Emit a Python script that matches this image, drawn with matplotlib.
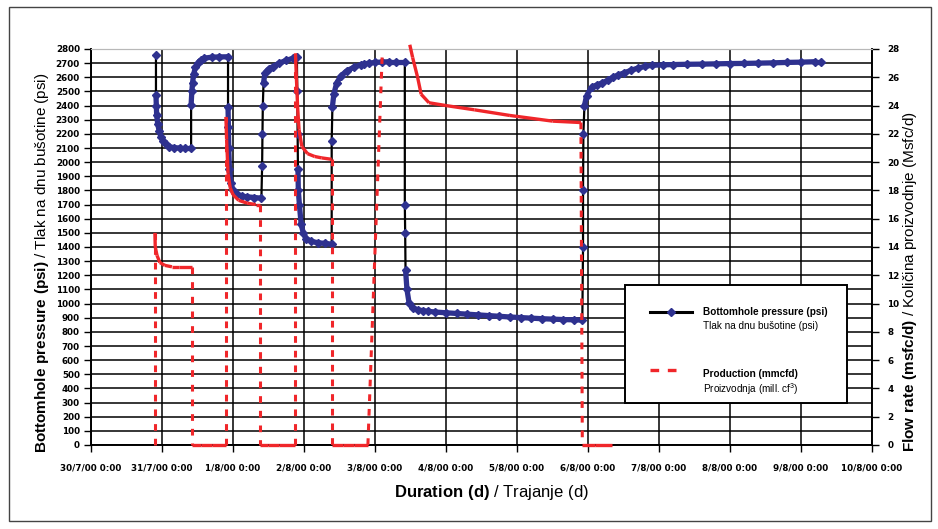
import numpy as np
import matplotlib.pyplot as plt
from matplotlib.collections import LineCollection
from matplotlib.patches import Rectangle
from matplotlib.lines import Line2D

plt.rcParams['font.family'] = ['Liberation Sans', 'DejaVu Sans']
plt.rcParams['mathtext.fontset'] = 'custom'
plt.rcParams['mathtext.rm'] = 'Liberation Sans'
plt.rcParams['mathtext.bf'] = 'Liberation Sans:bold'

# x values are days counted from 30/7/00 0:00
day_labels = ['30/7/00 0:00', '31/7/00 0:00', '1/8/00 0:00', '2/8/00 0:00',
              '3/8/00 0:00', '4/8/00 0:00', '5/8/00 0:00', '6/8/00 0:00',
              '7/8/00 0:00', '8/8/00 0:00', '9/8/00 0:00', '10/8/00 0:00']
psi_ticks = list(range(0, 2801, 100))
rate_ticks = list(range(0, 29, 2))

# bottomhole pressure (psi)
pressure_days = [0.915, 0.915, 0.92, 0.925, 0.94, 0.96, 0.985, 1.02, 1.06, 1.10, 1.17, 1.25, 1.33, 1.41,
                 1.41, 1.42, 1.43, 1.445, 1.47, 1.50, 1.55, 1.59, 1.70, 1.80, 1.93,
                 1.93, 1.935, 1.94, 1.95, 1.97, 2.00, 2.05, 2.12, 2.20, 2.30, 2.40,
                 2.41, 2.415, 2.42, 2.43, 2.45, 2.50, 2.56, 2.65, 2.75, 2.85, 2.90,
                 2.905, 2.91, 2.915, 2.92, 2.935, 2.96, 2.99, 3.03, 3.10, 3.20, 3.30, 3.39,
                 3.39, 3.40, 3.42, 3.46, 3.52, 3.60, 3.70, 3.80, 3.85, 3.92, 4.00, 4.10,
                 4.20, 4.30, 4.42,
                 4.42, 4.425, 4.43, 4.45, 4.48, 4.53, 4.60, 4.68, 4.75, 4.85, 5.00, 5.15,
                 5.30, 5.45, 5.60, 5.75, 5.90, 6.05, 6.20, 6.35, 6.50, 6.65, 6.80, 6.92,
                 6.93, 6.93, 6.935, 6.95, 6.98, 7.05, 7.12, 7.20, 7.28, 7.35, 7.42, 7.50,
                 7.60, 7.70, 7.80, 7.90, 8.05, 8.20, 8.40, 8.60, 8.80, 9.00, 9.20, 9.40,
                 9.60, 9.80, 10.00, 10.20, 10.28]
pressure_psi = [2758, 2475, 2400, 2330, 2270, 2220, 2178, 2150, 2125, 2110, 2102, 2100, 2100, 2100,
                2405, 2500, 2560, 2620, 2670, 2700, 2725, 2735, 2742, 2744, 2745,
                2390, 2250, 2100, 1950, 1850, 1800, 1775, 1760, 1755, 1750, 1745,
                1970, 2200, 2400, 2560, 2630, 2660, 2675, 2700, 2720, 2735, 2740,
                2500, 2200, 1950, 1800, 1700, 1560, 1500, 1460, 1440, 1430, 1425, 1420,
                2150, 2390, 2480, 2560, 2610, 2645, 2670, 2690, 2695, 2700, 2705, 2708,
                2710, 2710, 2710,
                1700, 1500, 1240, 1100, 1004, 970, 955, 950, 945, 940, 935, 930,
                925, 920, 915, 910, 905, 901, 897, 893, 890, 887, 885, 883,
                1400, 1800, 2200, 2400, 2470, 2530, 2545, 2560, 2580, 2600, 2615, 2630,
                2648, 2665, 2677, 2685, 2688, 2690, 2692, 2693, 2695, 2697, 2698, 2700,
                2702, 2705, 2707, 2710, 2710]

# production rate (mmcfd); nan leaves a gap in the record
rate_days = [0.90, 0.90, 0.905, 0.93, 0.97, 1.04, 1.14, 1.24, 1.42,
             1.42, 1.55, 1.70, 1.90,
             1.90, 1.91, 1.93, 1.96, 2.00, 2.08, 2.20, 2.32, 2.38,
             2.38, 2.50, 2.65, 2.88,
             2.88, 2.89, 2.91, 2.93, 2.97, 3.05, 3.15, 3.25, 3.39,
             3.39, 3.55, 3.70, 3.90,
             4.10, 4.30,
             4.49, 4.53, 4.60, 4.65, 4.76, 5.00, 5.40, 5.90, 6.50, 6.90,
             6.92, 7.10, 7.34]
rate_mmcfd = [0, 15.0, 14.0, 13.4, 12.9, 12.7, 12.6, 12.6, 12.6,
              0, 0, 0, 0,
              23.2, 21.6, 19.2, 18.2, 17.7, 17.3, 17.1, 17.0, 17.0,
              0, 0, 0, 0,
              27.7, 26.3, 23.9, 22.3, 21.1, 20.6, 20.4, 20.3, 20.2,
              0, 0, 0, 0,
              27.4, np.nan,
              28.3, 27.4, 26.0, 24.8, 24.2, 24.0, 23.7, 23.3, 22.9, 22.8,
              0, 0, 0]


def split_segments(xs, ys, jump):
    """Split a series into gentle segments and steep jumps."""
    gentle, steep = [], []
    for x0, y0, x1, y1 in zip(xs[:-1], ys[:-1], xs[1:], ys[1:]):
        if np.isnan(y0) or np.isnan(y1):
            continue
        seg = [(x0, y0), (x1, y1)]
        (steep if abs(y1 - y0) > jump else gentle).append(seg)
    return gentle, steep


navy = '#2e318f'
red = '#f0262a'
tick_font = dict(family='DejaVu Sans', weight='bold', size=6.3)

fig = plt.figure(figsize=(9.38, 5.29), dpi=100)
ax = fig.add_axes([91 / 938, 1 - 445 / 529, 781 / 938, 396 / 529])
ax2 = ax.twinx()

# pressure: black connecting line, dense blue diamonds along the curves
ax.plot(pressure_days, pressure_psi, color='black', lw=1.6, zorder=3)
gentle, steep = split_segments(pressure_days, pressure_psi, 150)
ax.add_collection(LineCollection(gentle, colors=navy, linewidths=3.8, zorder=4))
ax.plot(pressure_days, pressure_psi, ls='none', marker='D', ms=4,
        color=navy, mec=navy, zorder=5)

# production: solid where the rate changes slowly, dashed across the steps
gentle, steep = split_segments(rate_days, rate_mmcfd, 3)
ax2.add_collection(LineCollection(gentle, colors=red, linewidths=2.4,
                                  zorder=3, clip_on=False))
ax2.add_collection(LineCollection(steep, colors=red, linewidths=2.2,
                                  linestyles=[(0, (2.2, 2.6))], zorder=3, clip_on=False))

ax.set_xlim(0, 11)
ax.set_ylim(0, 2800)
ax2.set_ylim(0, 28)

ax.set_xticks(range(len(day_labels)))
ax.set_xticklabels(day_labels, fontdict=tick_font)
ax.set_yticks(psi_ticks)
ax.set_yticklabels([str(v) for v in psi_ticks], fontdict=tick_font)
ax2.set_yticks(rate_ticks)
ax2.set_yticklabels([str(v) for v in rate_ticks], fontdict=tick_font)

ax.grid(True, color='black', lw=1.1)
ax.yaxis.get_gridlines()[-1].set_visible(False)
ax.set_axisbelow(True)
ax.tick_params(axis='y', direction='out', length=5, width=1, pad=3)
ax.tick_params(axis='x', direction='out', length=5, width=1, pad=8)
ax2.tick_params(axis='y', direction='out', length=5, width=1, pad=6)
for a in (ax, ax2):
    for side in ('left', 'right', 'bottom'):
        a.spines[side].set_color('black')
        a.spines[side].set_linewidth(1.2)
    a.spines['top'].set_color('#b8b8b8')

# legend box
ax2.add_patch(Rectangle((0.684, 0.106), 0.284, 0.298, transform=ax2.transAxes,
                        facecolor='white', edgecolor='black', lw=1.4, zorder=10))
ax2.add_line(Line2D([0.716, 0.770], [0.336, 0.336], transform=ax2.transAxes,
                    color='black', lw=2.2, zorder=11))
ax2.add_line(Line2D([0.743], [0.336], transform=ax2.transAxes, marker='D', ms=4,
                    color=navy, zorder=12))
ax2.add_line(Line2D([0.716, 0.758], [0.189, 0.189], transform=ax2.transAxes,
                    color=red, lw=2.4, ls=(0, (2.6, 2.6)), zorder=11))
ax2.text(0.784, 0.336, 'Bottomhole pressure (psi)', transform=ax2.transAxes,
         fontsize=7.2, weight='bold', va='center', zorder=12)
ax2.text(0.784, 0.300, 'Tlak na dnu bušotine (psi)', transform=ax2.transAxes,
         fontsize=7.2, va='center', zorder=12)
ax2.text(0.784, 0.179, 'Production (mmcfd)', transform=ax2.transAxes,
         fontsize=7.2, weight='bold', va='center', zorder=12)
ax2.text(0.784, 0.140, 'Proizvodnja (mill. cf$^3$)', transform=ax2.transAxes,
         fontsize=7.2, va='center', zorder=12)

# axis titles, bold English part followed by the local translation
fig.text(42 / 938, 1 - 453 / 529,
         r'$\mathbf{Bottomhole\ pressure\ (psi)}$ / Tlak na dnu bušotine (psi)',
         rotation=90, fontsize=11, ha='center', va='bottom')
fig.text(910 / 938, 1 - 452 / 529,
         r'$\mathbf{Flow\ rate\ (msfc/d)}$ / Količina proizvodnje (Msfc/d)',
         rotation=90, fontsize=11, ha='center', va='bottom')
fig.text(491 / 938, 1 - 492 / 529, r'$\mathbf{Duration\ (d)}$ / Trajanje (d)',
         fontsize=12, ha='center', va='center')

# outer frame
fig.add_artist(Rectangle((9 / 938, 1 - 521 / 529), 922 / 938, 514 / 529,
                         transform=fig.transFigure, fill=False,
                         edgecolor='#444444', lw=1))

fig.savefig('out.png', dpi=100)
